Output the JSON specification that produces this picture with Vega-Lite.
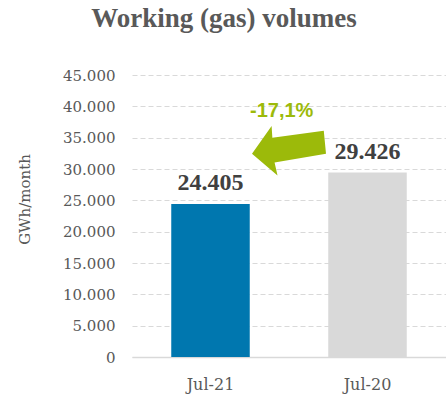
{
  "$schema": "https://vega.github.io/schema/vega-lite/v6.json",
  "autosize": {"type": "none"},
  "width": 314,
  "height": 282,
  "padding": {"left": 132, "top": 75, "right": 0, "bottom": 43},
  "background": "white",
  "title": {
    "text": "Working (gas) volumes",
    "anchor": "middle",
    "frame": "group",
    "dx": -65,
    "offset": 14,
    "baseline": "alphabetic",
    "font": "Liberation Serif",
    "fontSize": 27,
    "fontWeight": "bold",
    "color": "#595959"
  },
  "config": {
    "view": {"stroke": null},
    "locale": {"number": {"decimal": ",", "thousands": ".", "grouping": [3], "currency": ["", "€"]}},
    "axisY": {
      "ticks": false, "domain": false, "tickCount": 9,
      "grid": true, "gridColor": "#D9D9D9", "gridDash": [5, 3], "gridWidth": 1,
      "labelFont": "DejaVu Serif", "labelFontSize": 15, "labelColor": "#595959", "labelPadding": 17,
      "titleFont": "DejaVu Serif", "titleFontSize": 15, "titleFontWeight": "normal", "titleColor": "#595959",
      "titleX": -108, "titleY": 124, "titleAngle": -90, "titleAlign": "center", "titleBaseline": "middle"
    }
  },
  "datasets": {
    "bars": [
      {"month": "Jul-21", "value": 24405},
      {"month": "Jul-20", "value": 29426}
    ],
    "note": [
      {"month": "Jul-21", "change": "-17,1%"}
    ]
  },
  "layer": [
    {
      "data": {"name": "bars"},
      "mark": {"type": "bar"},
      "encoding": {
        "x": {
          "field": "month", "type": "nominal", "sort": null,
          "scale": {"paddingInner": 0.5, "paddingOuter": 0.25},
          "axis": {
            "title": null, "labelAngle": 0, "ticks": false, "domain": true,
            "domainColor": "#D9D9D9", "domainWidth": 1.5,
            "labelFont": "DejaVu Serif", "labelFontSize": 16, "labelColor": "#595959",
            "labelPadding": 19
          }
        },
        "y": {
          "field": "value", "type": "quantitative",
          "scale": {"domain": [0, 45000], "nice": false},
          "axis": {"title": "GWh/month", "format": ",d", "tickCount": 9}
        },
        "color": {
          "field": "month", "type": "nominal", "sort": null,
          "scale": {"domain": ["Jul-21", "Jul-20"], "range": ["#0077AF", "#D9D9D9"]},
          "legend": null
        }
      }
    },
    {
      "data": {"name": "bars"},
      "mark": {"type": "text", "baseline": "alphabetic", "dy": -14, "font": "Liberation Serif", "fontSize": 24, "fontWeight": "bold", "color": "#404040"},
      "encoding": {
        "x": {"field": "month", "type": "nominal", "sort": null},
        "y": {"field": "value", "type": "quantitative"},
        "text": {"field": "value", "type": "quantitative", "format": ",d"}
      }
    },
    {
      "data": {"name": "note"},
      "mark": {
        "type": "point", "filled": true, "opacity": 1, "color": "#9CBA0A", "strokeWidth": 0, "size": 5476,
        "shape": "M-1,0.07L-0.47,-0.68L-0.45,-0.36L0.94,-0.55L1,0.07L-0.39,0.31L-0.31,0.66Z"
      },
      "encoding": {
        "x": {"field": "month", "type": "nominal", "sort": null, "bandPosition": 1.5},
        "y": {"datum": 32860, "type": "quantitative"}
      }
    },
    {
      "data": {"name": "note"},
      "mark": {"type": "text", "baseline": "alphabetic", "font": "Liberation Sans", "fontSize": 20, "fontWeight": "bold", "color": "#9CBA0A"},
      "encoding": {
        "x": {"field": "month", "type": "nominal", "sort": null, "bandPosition": 1.407},
        "y": {"datum": 38340, "type": "quantitative"},
        "text": {"field": "change"}
      }
    }
  ]
}
